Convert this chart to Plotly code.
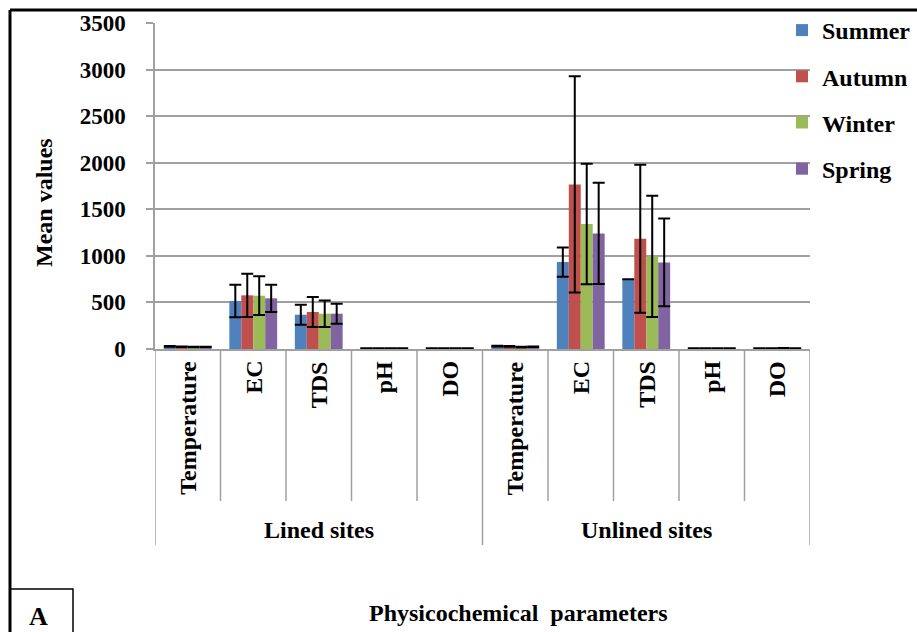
import plotly.graph_objects as go

# ---------------- data ----------------
parameters = ["Temperature", "EC", "TDS", "pH", "DO"]
groups = ["Lined sites", "Unlined sites"]
seasons = ["Summer", "Autumn", "Winter", "Spring"]

summer = [28, 515, 368, 7.8, 6.5, 32, 933, 748, 7.6, 5.8]
autumn = [25, 576, 397, 7.6, 7.2, 27, 1767, 1183, 7.5, 6.4]
winter = [21, 572, 379, 7.9, 8.1, 20, 1341, 994, 7.8, 7.9]
spring = [23, 544, 379, 7.7, 7.0, 24, 1241, 930, 7.7, 7.1]

summer_err = [3, 175, 107, 0.4, 1.0, 4, 158, None, 0.5, 1.2]
autumn_err = [3, 232, 161, 0.4, 1.2, 4, 1160, 794, 0.4, 1.3]
winter_err = [2, 208, 143, 0.3, 1.1, 3, 647, 651, 0.5, 1.5]
spring_err = [2, 146, 107, 0.3, 1.0, 3, 543, 470, 0.4, 1.3]

y_ticks = [0, 500, 1000, 1500, 2000, 2500, 3000, 3500]

colors = ["#4F81BD", "#C0504D", "#9BBB59", "#8064A2"]
values = [summer, autumn, winter, spring]
errors = [summer_err, autumn_err, winter_err, spring_err]

FONT = "Liberation Serif"
W, H = 917, 632
ML, MR, MT, MB = 155, 107, 23, 283
PW, PH = W - ML - MR, H - MT - MB


def px_x(px):
    return (px - ML) / PW


def px_y(py):
    return (H - MB - py) / PH


def bold(size):
    return dict(family=FONT, size=size, color="black", weight="bold")


n_cat = len(parameters) * len(groups)
xpos = list(range(n_cat))

fig = go.Figure()
for s, vals, errs, c in zip(seasons, values, errors, colors):
    fig.add_trace(go.Bar(
        x=xpos, y=vals, name=s, marker=dict(color=c, line=dict(width=0)),
        legendgroup=s,
        error_y=dict(type="data", array=errs, visible=True, color="black",
                     thickness=2, width=6),
    ))

shapes = []
# inner category dividers
for i in range(1, n_cat):
    if i % len(parameters) == 0:
        continue
    shapes.append(dict(type="line", xref="x", yref="paper", x0=i - 0.5, x1=i - 0.5,
                       y0=0, y1=px_y(501), line=dict(color="#a0a0a0", width=1.5)))
# group dividers
for g in range(len(groups) + 1):
    xg = g * len(parameters) - 0.5
    shapes.append(dict(type="line", xref="x", yref="paper", x0=xg, x1=xg,
                       y0=0, y1=px_y(545), line=dict(color="#a0a0a0", width=1.5)))
# outer frame (top + left)
shapes.append(dict(type="line", xref="paper", yref="paper", x0=px_x(10), x1=px_x(930),
                   y0=px_y(10), y1=px_y(10), line=dict(color="black", width=3)))
shapes.append(dict(type="line", xref="paper", yref="paper", x0=px_x(10), x1=px_x(10),
                   y0=px_y(10), y1=px_y(640), line=dict(color="black", width=3)))
# "A" box
shapes.append(dict(type="rect", xref="paper", yref="paper", x0=px_x(10), x1=px_x(73),
                   y0=px_y(589), y1=px_y(645), line=dict(color="black", width=1.5)))

annotations = []
for i in xpos:
    annotations.append(dict(x=i, y=0, xref="x", yref="paper", yshift=-10,
                            text=parameters[i % len(parameters)], textangle=-90,
                            showarrow=False, xanchor="center", yanchor="top",
                            font=bold(24)))
for g, name in enumerate(groups):
    annotations.append(dict(x=g * len(parameters) + (len(parameters) - 1) / 2, y=px_y(530),
                            xref="x", yref="paper", text=name, showarrow=False,
                            xanchor="center", yanchor="middle", font=bold(24)))
annotations.append(dict(x=px_x(518), y=px_y(613), xref="paper", yref="paper",
                        text="Physicochemical  parameters", showarrow=False,
                        xanchor="center", yanchor="middle", font=bold(24)))
annotations.append(dict(x=px_x(44), y=px_y(203), xref="paper", yref="paper",
                        text="Mean values", textangle=-90, showarrow=False,
                        xanchor="center", yanchor="middle", font=bold(24)))
annotations.append(dict(x=px_x(38), y=px_y(616), xref="paper", yref="paper",
                        text="A", showarrow=False, xanchor="center", yanchor="middle",
                        font=bold(26)))

fig.update_layout(
    width=W, height=H,
    margin=dict(l=ML, r=MR, t=MT, b=MB, autoexpand=False),
    paper_bgcolor="white", plot_bgcolor="white",
    barmode="group", bargap=0.27, bargroupgap=0,
    showlegend=True,
    legend=dict(x=px_x(782), y=px_y(8), xanchor="left", yanchor="top",
                bgcolor="rgba(0,0,0,0)", tracegroupgap=12, traceorder="grouped",
                font=bold(24)),
    xaxis=dict(range=[-0.5, n_cat - 0.5], showticklabels=False, ticks="",
               showgrid=False, zeroline=False, showline=True,
               linecolor="#a0a0a0", linewidth=1.5),
    yaxis=dict(range=[0, 3500], tickvals=y_ticks, ticks="outside", ticklen=7,
               tickcolor="#a0a0a0", tickwidth=1.5, showline=True,
               linecolor="#a0a0a0", linewidth=1.5, showgrid=True,
               gridcolor="#a0a0a0", gridwidth=1.5, zeroline=False,
               ticklabelstandoff=16, tickfont=bold(23)),
    shapes=shapes, annotations=annotations,
)

fig.write_html("out.html", config={"displayModeBar": False},
               post_script="document.body.style.margin='0';document.body.style.overflow='hidden';")
